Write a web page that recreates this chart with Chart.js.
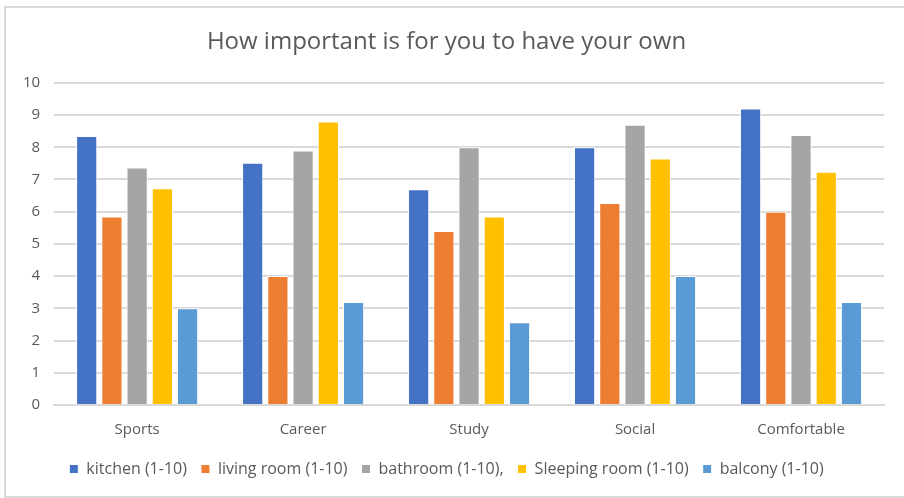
<!DOCTYPE html>
<html>
<head>
<meta charset="utf-8">
<script src="https://cdn.jsdelivr.net/npm/chart.js@4"></script>
<style>
  body { margin: 0; background: #fff; }
  #frame {
    position: absolute; left: 4px; top: 6px; width: 900px; height: 488px;
    border-left: 2px solid #d9d9d9; border-top: 2px solid #d9d9d9; border-bottom: 2px solid #d9d9d9;
  }
  #chart { display: block; }
</style>
</head>
<body>
<div id="frame"><canvas id="chart" width="898" height="488"></canvas></div>
<script>
const categories = ["Sports", "Career", "Study", "Social", "Comfortable"];
const kitchen = [8.35, 7.52, 6.7, 8.0, 9.2];
const livingRoom = [5.85, 4.0, 5.4, 6.27, 6.0];
const bathroom = [7.37, 7.9, 8.0, 8.7, 8.38];
const sleepingRoom = [6.73, 8.8, 5.85, 7.65, 7.24];
const balcony = [3.0, 3.2, 2.57, 4.0, 3.2];
const yTicks = [0, 1, 2, 3, 4, 5, 6, 7, 8, 9, 10];

const font = "Open Sans, Lato, sans-serif";
const grey = "#595959";

function series(label, data, color) {
  return {
    label: label, data: data, backgroundColor: color,
    borderColor: "#ffffff", borderWidth: 1,
    categoryPercentage: 0.76, barPercentage: 0.84
  };
}

var ctx = document.getElementById("chart").getContext("2d");
var myChart = new Chart(ctx, {
  type: "bar",
  data: {
    labels: categories,
    datasets: [
      series("kitchen (1-10)", kitchen, "#4472C4"),
      series("living room (1-10)", livingRoom, "#ED7D31"),
      series("bathroom (1-10),", bathroom, "#A5A5A5"),
      series("Sleeping room (1-10)", sleepingRoom, "#FFC000"),
      series("balcony (1-10)", balcony, "#5B9BD5")
    ]
  },
  options: {
    responsive: false,
    animation: false,
    layout: { padding: { left: 3, right: 20, top: 16, bottom: 9 } },
    plugins: {
      title: {
        display: true,
        text: "How important is for you to have your own",
        color: grey,
        font: { family: font, size: 24, weight: "normal" },
        padding: { top: 4, bottom: 26 }
      },
      legend: {
        position: "bottom",
        labels: {
          color: grey, boxWidth: 9, boxHeight: 9, padding: 14,
          font: { family: font, size: 16 }
        }
      },
      tooltip: { enabled: false }
    },
    scales: {
      x: {
        grid: { display: false },
        border: { color: "#d9d9d9", width: 2 },
        ticks: { color: grey, font: { family: font, size: 15 }, padding: 8 }
      },
      y: {
        min: 0, max: 10,
        afterBuildTicks: function(axis) { axis.ticks = yTicks.map(v => ({ value: v })); },
        grid: { color: "#d9d9d9", lineWidth: 2, drawTicks: false },
        border: { display: false },
        ticks: { color: grey, font: { family: font, size: 15 }, padding: 14 }
      }
    }
  }
});
</script>
</body>
</html>
